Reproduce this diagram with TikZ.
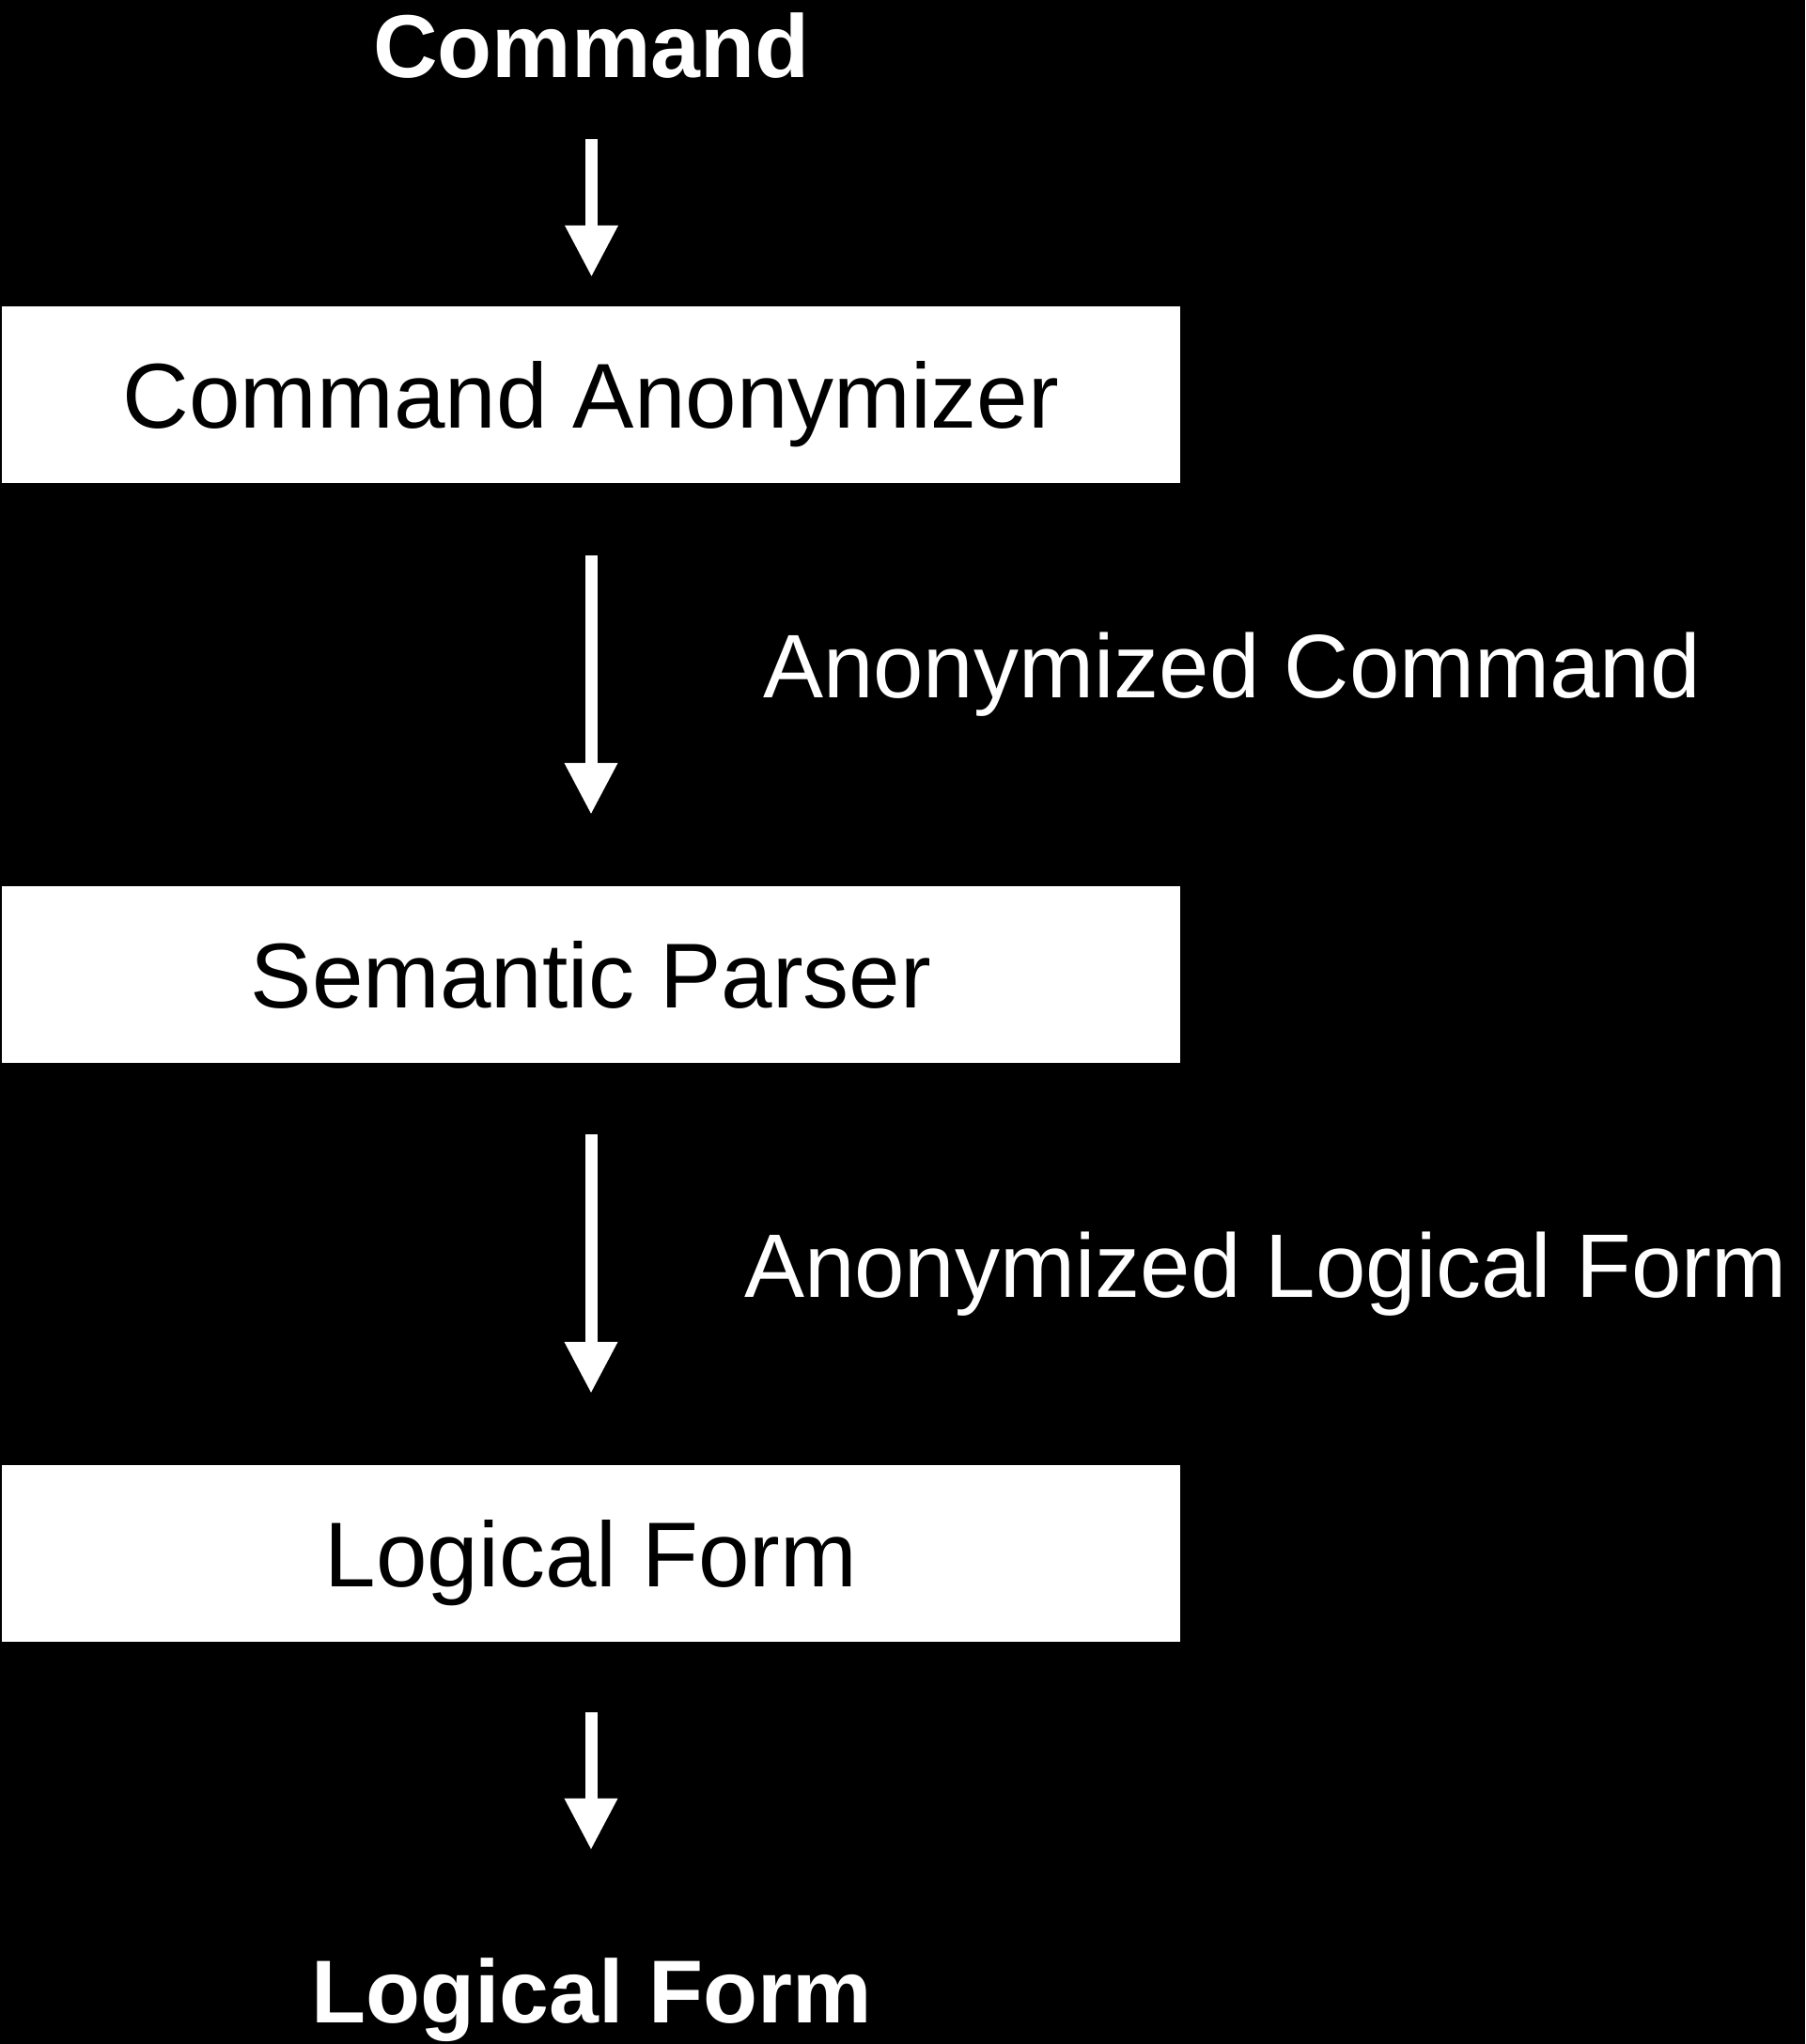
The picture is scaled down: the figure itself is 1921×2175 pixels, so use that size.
\documentclass[tikz,border=0pt]{standalone}
\usepackage{fontspec}
\setmainfont{Liberation Sans}
\usetikzlibrary{arrows.meta}
\begin{document}
\begin{tikzpicture}[x=1pt,y=-1pt,
  stagebox/.style={fill=white,draw=none,minimum width=1254pt,minimum height=188pt,inner sep=0pt,
    text height=70pt,text depth=0pt,font=\fontsize{98}{110}\selectfont,text=black},
  endtext/.style={inner sep=0pt,text height=70pt,text depth=0pt,text=white,font=\fontsize{95}{110}\selectfont\bfseries},
  sidelabel/.style={inner sep=0pt,text=white,font=\fontsize{96}{110}\selectfont,anchor=base west},
  flow/.style={draw=white,line width=13pt,-{Triangle[width=53pt,length=55pt]}}]
\fill[black] (0,0) rectangle (1921,2175);
\useasboundingbox (0,0) rectangle (1921,2175);
\node[endtext,anchor=south] (cmd) at (629.5,83) {Command};
\node[stagebox] (anon) at (629,420) {Command Anonymizer};
\node[stagebox] (parser) at (629,1037) {Semantic Parser};
\node[stagebox] (lfbox) at (629,1653) {Logical Form};
\node[endtext,anchor=south] (lf) at (629.5,2153) {Logical Form};
\node[sidelabel] (lab1) at (812,742) {Anonymized Command};
\node[sidelabel] (lab2) at (792,1380) {Anonymized Logical Form};
\draw[flow,shorten <=65pt,shorten >=31pt] (cmd.south) -- (cmd.south |- anon.north);
\draw[flow,shorten <=77pt,shorten >=76pt] (anon.south) -- (parser.north);
\draw[flow,shorten <=76pt,shorten >=76pt] (parser.south) -- (lfbox.north);
\draw[flow,shorten <=75pt,shorten >=114pt] (lfbox.south) -- (lfbox.south |- lf.north);
\end{tikzpicture}
\end{document}
